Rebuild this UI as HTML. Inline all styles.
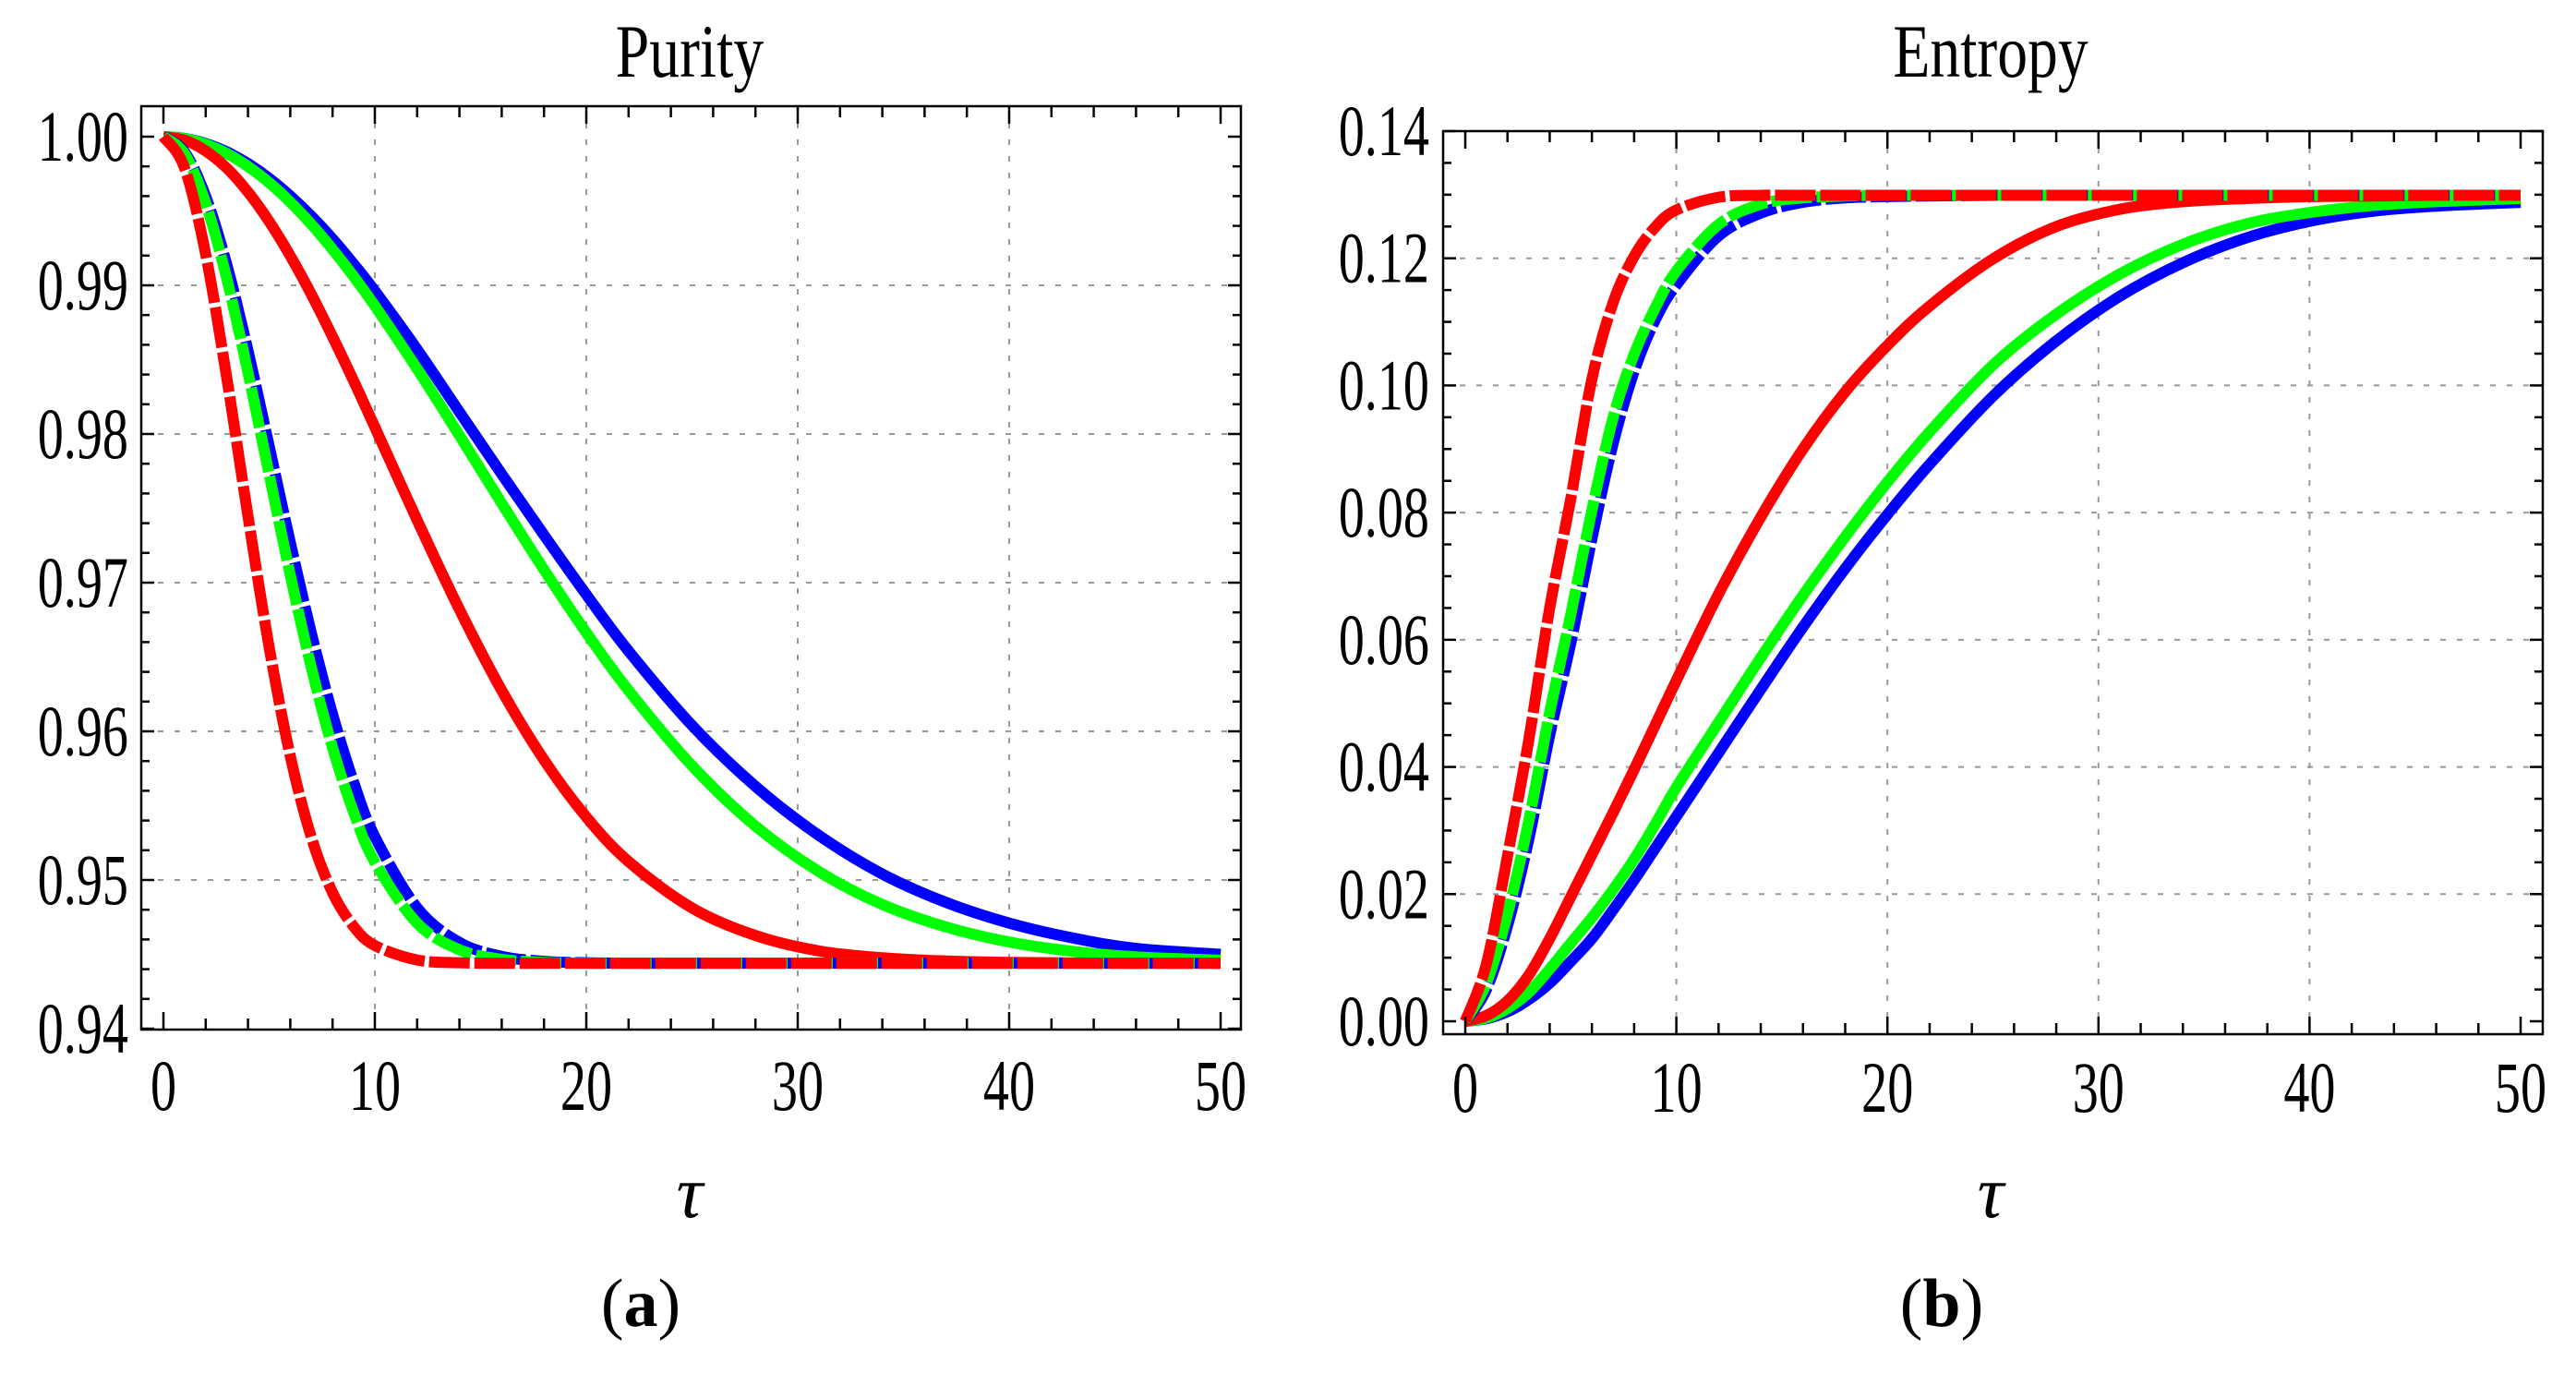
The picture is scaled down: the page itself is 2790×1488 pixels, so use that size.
<!DOCTYPE html>
<html><head><meta charset="utf-8"><style>
html,body{margin:0;padding:0;background:#fff;}
svg{display:block;font-family:"Liberation Serif",serif;}
</style></head><body>
<svg id="fig" width="2790" height="1488" viewBox="0 0 2790 1488" xmlns="http://www.w3.org/2000/svg">
<rect width="2790" height="1488" fill="#fff"/>
<g id="panelA"></g>
<g id="panelB"></g>
</svg>
<script>
const tVals = [0,1,2,3,4,5,6,7,8,9,10,12,14,16,18,20,22,25,28,31,34,37,40,43,46,50];
const xTickLabels = ["0","10","20","30","40","50"];
const purityTicks = ["0.94","0.95","0.96","0.97","0.98","0.99","1.00"];
const entropyTicks = ["0.00","0.02","0.04","0.06","0.08","0.10","0.12","0.14"];

const purityBlueSolid = [1,0.99988,0.99954,0.99898,0.99819,0.99720,0.99601,0.99465,0.99312,0.99143,0.98962,0.98569,0.98148,0.97730,0.97320,0.96920,0.96540,0.96040,0.95630,0.95300,0.95040,0.94850,0.94710,0.94610,0.94540,0.94500];
const purityGreenSolid = [1,0.99987,0.99949,0.99887,0.99800,0.99691,0.99560,0.99410,0.99242,0.99059,0.98862,0.98438,0.97990,0.97534,0.97087,0.96664,0.96275,0.95769,0.95363,0.95057,0.94835,0.94685,0.94583,0.94520,0.94483,0.94460];
const purityRedSolid = [1,0.99976,0.99904,0.99788,0.99628,0.99430,0.99198,0.98938,0.98654,0.98356,0.98046,0.97421,0.96820,0.96275,0.95808,0.95424,0.95124,0.94812,0.94627,0.94523,0.94477,0.94455,0.94446,0.94442,0.94440,0.94440];
const purityBlueDashed = [1,0.99897,0.99598,0.99137,0.98560,0.97918,0.97270,0.96658,0.96114,0.95657,0.95291,0.94813,0.94580,0.94486,0.94453,0.94443,0.94440,0.94440,0.94440,0.94440,0.94440,0.94440,0.94440,0.94440,0.94440,0.94440];
const purityGreenDashed = [1,0.99884,0.99552,0.99043,0.98413,0.97729,0.97050,0.96426,0.95889,0.95454,0.95120,0.94710,0.94531,0.94466,0.94446,0.94440,0.94440,0.94440,0.94440,0.94440,0.94440,0.94440,0.94440,0.94440,0.94440,0.94440];
const purityRedDashed = [1,0.99790,0.99208,0.98374,0.97446,0.96566,0.95833,0.95285,0.94915,0.94687,0.94559,0.94462,0.94443,0.94440,0.94440,0.94440,0.94440,0.94440,0.94440,0.94440,0.94440,0.94440,0.94440,0.94440,0.94440,0.94440];

const entropyBlueSolid = [0,0.0004,0.0015,0.0034,0.006,0.0094,0.013,0.0175,0.0222,0.0272,0.0322,0.0422,0.0522,0.062,0.0712,0.0797,0.0876,0.0983,0.107,0.114,0.1193,0.1232,0.1258,0.1274,0.1282,0.1288];
const entropyGreenSolid = [0,0.0005,0.002,0.0045,0.0082,0.0123,0.0163,0.0207,0.0255,0.031,0.0368,0.047,0.0572,0.067,0.0762,0.0848,0.0927,0.1032,0.1112,0.1175,0.1222,0.1254,0.1272,0.1283,0.1289,0.1294];
const entropyRedSolid = [0,0.0009,0.0032,0.0072,0.013,0.0196,0.0262,0.0328,0.0396,0.0466,0.0536,0.0672,0.0793,0.09,0.099,0.1063,0.1125,0.1199,0.125,0.1277,0.1289,0.1294,0.1297,0.1298,0.1299,0.1299];
const entropyBlueDashed = [0,0.005,0.015,0.0285,0.045,0.0595,0.0759,0.0908,0.1022,0.1103,0.1158,0.1235,0.1271,0.1288,0.1295,0.1297,0.1298,0.1299,0.1299,0.1299,0.1299,0.1299,0.1299,0.1299,0.1299,0.1299];
const entropyGreenDashed = [0,0.006,0.0169,0.0314,0.0486,0.064,0.0804,0.0949,0.1049,0.1122,0.118,0.1253,0.1285,0.1295,0.1298,0.1299,0.1299,0.1299,0.1299,0.1299,0.1299,0.1299,0.1299,0.1299,0.1299,0.1299];
const entropyRedDashed = [0,0.009,0.026,0.0441,0.065,0.0822,0.101,0.113,0.1203,0.1249,0.1276,0.1296,0.1299,0.1299,0.1299,0.1299,0.1299,0.1299,0.1299,0.1299,0.1299,0.1299,0.1299,0.1299,0.1299,0.1299];

const NS = "http://www.w3.org/2000/svg";
function mk(tag, attrs, parent){const e=document.createElementNS(NS,tag);for(const k in attrs)e.setAttribute(k,attrs[k]);if(parent)parent.appendChild(e);return e;}

function smoothPath(pts){
  let d = "M"+pts[0][0].toFixed(2)+","+pts[0][1].toFixed(2);
  for(let i=0;i<pts.length-1;i++){
    const p0=pts[Math.max(0,i-1)],p1=pts[i],p2=pts[i+1],p3=pts[Math.min(pts.length-1,i+2)];
    const c1x=p1[0]+(p2[0]-p0[0])/6,c1y=p1[1]+(p2[1]-p0[1])/6;
    const c2x=p2[0]-(p3[0]-p1[0])/6,c2y=p2[1]-(p3[1]-p1[1])/6;
    d+=" C"+c1x.toFixed(2)+","+c1y.toFixed(2)+" "+c2x.toFixed(2)+","+c2y.toFixed(2)+" "+p2[0].toFixed(2)+","+p2[1].toFixed(2);
  }
  return d;
}

function label(parent, txt, x, y, anchor, size, sx, extra){
  const t = mk("text",{x:(x/sx).toFixed(2),y:y,"font-size":size,"text-anchor":anchor,transform:"scale("+sx+",1)",fill:"#000"},parent);
  if(extra) for(const k in extra) t.setAttribute(k,extra[k]);
  t.textContent = txt;
  return t;
}

function panel(g, cfg){
  const X = t => cfg.x0 + (t - 0) * (cfg.x50 - cfg.x0) / 50;
  const Y = v => cfg.yBot + (v - cfg.vBot) * (cfg.yTop - cfg.yBot) / (cfg.vTop - cfg.vBot);
  const L=cfg.L,R=cfg.R,T=cfg.T,B=cfg.B;
  const grid = mk("g",{stroke:"#999","stroke-width":2,"stroke-dasharray":"6 12"},g);
  
  
  [10,20,30,40].forEach(t=>mk("line",{x1:X(t),x2:X(t),y1:T,y2:B},grid));
  cfg.gridVals.forEach(v=>mk("line",{x1:L,x2:R,y1:Y(v),y2:Y(v)},grid));
  const curves = mk("g",{fill:"none","stroke-width":12,"stroke-linejoin":"round"},g);
  
  
  cfg.series.forEach(s=>{
    const pts = tVals.map((t,i)=>[X(t),Y(s.vals[i])]);
    const p = mk("path",{d:smoothPath(pts),stroke:s.color},curves);
    if(s.dashed) p.setAttribute("stroke-dasharray","44 5");
    
    
  });
  const fr = mk("rect",{x:L,y:T,width:R-L,height:B-T,fill:"none",stroke:"#000","stroke-width":2.5},g);
  
  
  const tk = mk("g",{stroke:"#000","stroke-width":2.5},g);
  
  
  for(let t=0;t<=50;t+=2){
    const major = t%10===0, len = major?19:12;
    mk("line",{x1:X(t),x2:X(t),y1:B,y2:B-len},tk);
    mk("line",{x1:X(t),x2:X(t),y1:T,y2:T+len},tk);
  }
  const nMinor = Math.round((cfg.vTop-cfg.vBot)/cfg.minorStep);
  for(let i=0;i<=nMinor;i++){
    const v = cfg.vBot + i*cfg.minorStep;
    const major = i % cfg.minorPerMajor === 0, len = major?14:9;
    mk("line",{x1:L,x2:L+len,y1:Y(v),y2:Y(v)},tk);
    mk("line",{x1:R,x2:R-len,y1:Y(v),y2:Y(v)},tk);
  }
  xTickLabels.forEach(s=>{
    const e = label(g,s,X(+s),cfg.xLabelBase,"middle",78,0.72);
    
    
  });
  cfg.yLabels.forEach(s=>{
    const e = label(g,s,cfg.yLabelRight,Y(+s)+26,"end",78,0.72);
    
    
  });
  const ttl = label(g,cfg.title,cfg.titleX,83,"middle",82,0.8);
  
  
  const tau = label(g,"τ",cfg.titleX,1318,"middle",80,1,{"font-style":"italic"});
  
  
  const cap = mk("text",{x:cfg.titleX-53,y:1436,"font-size":74,"text-anchor":"middle"},g);
  
  
  cap.innerHTML = '(<tspan font-weight="bold">'+cfg.cap+'</tspan>)';
}

panel(document.getElementById("panelA"),{
  L:153,R:1344,T:115,B:1115,x0:177,x50:1322,
  vBot:0.94,vTop:1.00,yBot:1114,yTop:148,
  gridVals:[0.95,0.96,0.97,0.98,0.99],minorStep:0.002,minorPerMajor:5,
  xLabelBase:1202,yLabels:purityTicks,yLabelRight:139,
  title:"Purity",titleX:747,cap:"a",
  series:[
    {name:"purity-blue-solid",vals:purityBlueSolid,color:"#0000ff"},
    {name:"purity-green-solid",vals:purityGreenSolid,color:"#00ff00"},
    {name:"purity-red-solid",vals:purityRedSolid,color:"#ff0000"},
    {name:"purity-blue-dashed",vals:purityBlueDashed,color:"#0000ff",dashed:true},
    {name:"purity-green-dashed",vals:purityGreenDashed,color:"#00ff00",dashed:true},
    {name:"purity-red-dashed",vals:purityRedDashed,color:"#ff0000",dashed:true}
  ]
});
panel(document.getElementById("panelB"),{
  L:1563,R:2754,T:142,B:1120,x0:1587,x50:2730,
  vBot:0.0,vTop:0.14,yBot:1106,yTop:142,
  gridVals:[0.02,0.04,0.06,0.08,0.10,0.12],minorStep:0.005,minorPerMajor:4,
  xLabelBase:1204,yLabels:entropyTicks,yLabelRight:1548,
  title:"Entropy",titleX:2156,cap:"b",
  series:[
    {name:"entropy-blue-solid",vals:entropyBlueSolid,color:"#0000ff"},
    {name:"entropy-green-solid",vals:entropyGreenSolid,color:"#00ff00"},
    {name:"entropy-red-solid",vals:entropyRedSolid,color:"#ff0000"},
    {name:"entropy-blue-dashed",vals:entropyBlueDashed,color:"#0000ff",dashed:true},
    {name:"entropy-green-dashed",vals:entropyGreenDashed,color:"#00ff00",dashed:true},
    {name:"entropy-red-dashed",vals:entropyRedDashed,color:"#ff0000",dashed:true}
  ]
});
</script>
</body></html>
